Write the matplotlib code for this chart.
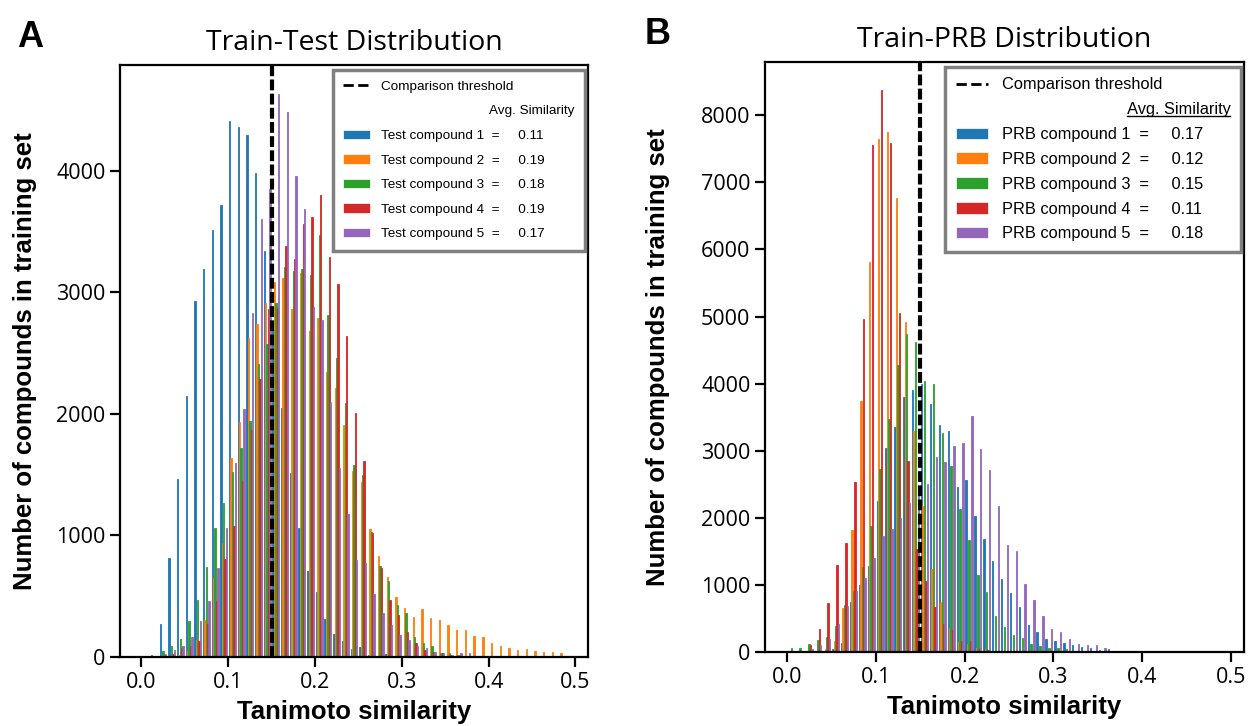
import numpy as np
import matplotlib
matplotlib.use("Agg")
import matplotlib.pyplot as plt
from matplotlib.patches import Patch
from matplotlib.lines import Line2D

# similarity bins, 0.00 .. 0.49 in steps of 0.01
edges = np.round(np.arange(0, 0.50, 0.01), 2)
n_bins = len(edges) - 1
centers = (edges[:-1] + edges[1:]) / 2

def pad(c):
    return c + [0] * (n_bins - len(c))

# ---- A: Train-Test, counts per bin ----
test1 = pad([0, 20, 268, 817, 1463, 2143, 2926, 3194, 3514, 3719, 4407, 4359, 4298, 3978, 3338,
             2700, 2051, 1517, 1064, 710, 538, 313, 189, 132, 68, 82, 14, 10, 22, 5])
test2 = pad([0, 0, 0, 5, 15, 46, 140, 305, 653, 938, 1640, 1930, 2621, 2743, 2914, 3085, 3118,
             2865, 3155, 2682, 2789, 2347, 2210, 1905, 1530, 1440, 1055, 830, 662, 494, 405, 330,
             394, 323, 305, 264, 222, 222, 173, 162, 113, 93, 77, 58, 63, 49, 44, 38, 30])
test3 = pad([0, 5, 46, 91, 152, 299, 466, 741, 1061, 1270, 1524, 1716, 1945, 2414, 2576, 2914,
             3210, 3176, 3191, 3139, 3475, 2810, 2463, 2088, 1583, 1500, 1032, 750, 622, 424, 358,
             168, 113, 93, 36, 30, 14, 5])
test4 = pad([0, 5, 15, 25, 70, 91, 128, 268, 457, 808, 1076, 1448, 1865, 2286, 2859, 2870, 3380,
             3277, 3560, 3620, 3804, 3292, 3069, 2643, 2007, 1615, 1020, 732, 470, 347, 205, 115,
             61, 44, 30, 14, 8])
test5 = pad([0, 0, 21, 61, 91, 168, 299, 463, 732, 1058, 1600, 2042, 2829, 3606, 3850, 4634, 4487,
             3956, 3688, 2880, 2774, 2097, 1554, 1173, 799, 770, 518, 359, 263, 181, 140, 91, 71,
             44, 30, 20, 36, 30, 5])
test_avg = ["0.11", "0.19", "0.18", "0.19", "0.17"]

# ---- B: Train-PRB, counts per bin ----
prb1 = pad([0, 0, 0, 0, 5, 39, 139, 748, 997, 1285, 2244, 3047, 3352, 3795, 3906, 4000, 3695,
            3379, 3296, 2465, 2559, 2033, 1690, 1357, 1091, 886, 676, 399, 305, 194, 160, 139, 104,
            80, 55, 30, 40, 15, 8])
prb2 = pad([0, 0, 0, 0, 44, 166, 650, 1817, 3740, 5817, 7645, 7756, 6770, 4920, 3296, 2172, 1230,
            748, 360, 155, 122, 66, 39, 15, 8])
prb3 = pad([55, 55, 122, 177, 222, 388, 704, 914, 1263, 1884, 2731, 3479, 4277, 4737, 4626, 4044,
            3989, 3258, 2770, 2133, 1673, 1152, 897, 538, 377, 249, 211, 122, 83, 60, 60, 40, 15, 8])
prb4 = pad([0, 0, 111, 343, 731, 1296, 1618, 2532, 4958, 7551, 8376, 7590, 5058, 2853, 1540, 1064,
            676, 416, 332, 166, 166, 66, 28, 10])
prb5 = pad([0, 0, 44, 100, 194, 415, 693, 914, 1108, 1396, 1728, 1839, 1994, 2227, 2350, 2504,
            2909, 2836, 3075, 3113, 3518, 3019, 2715, 2172, 1590, 1507, 1014, 776, 537, 340, 303,
            189, 119, 104, 99, 60, 20, 10])
prb_avg = ["0.17", "0.12", "0.15", "0.11", "0.18"]

threshold = 0.15
colors = ["#1f77b4", "#ff7f0e", "#2ca02c", "#d62728", "#9467bd"]

fig = plt.figure(figsize=(12.5, 7.26), dpi=100)
axA = fig.add_axes([120 / 1250, 69 / 726, 468 / 1250, 592 / 726])
axB = fig.add_axes([765 / 1250, 74 / 726, 479 / 1250, 590 / 726])

tickfont = "Open Sans"
lab = dict(family="Liberation Sans", fontweight="bold", fontsize=18.5)


def panel(ax, data, avg, name, title, letter, letter_x, ylab_x, ymax, yticks,
          legsize, lspace, header_spaces, bpad):
    _, _, bars = ax.hist([centers] * 5, bins=edges, weights=data, color=colors)
    for bc, c in zip(bars, colors):
        for p in bc:
            p.set_edgecolor(c)
            p.set_linewidth(0.6)
    ax.axvline(threshold, color="black", lw=3, ls=(0, (2.6, 0.8)), zorder=5)
    ax.set_xlim(-0.0245, 0.5145)
    ax.set_ylim(0, ymax)
    ax.set_xticks([0.0, 0.1, 0.2, 0.3, 0.4, 0.5])
    ax.set_yticks(yticks)
    for s in ax.spines.values():
        s.set_linewidth(1.6)
    ax.tick_params(direction="out", length=7, width=1.6, labelsize=15.5)
    for t in ax.get_xticklabels() + ax.get_yticklabels():
        t.set_family(tickfont)
    ax.set_title(title, family=tickfont, fontsize=20.5, pad=11)
    ax.set_xlabel("Tanimoto similarity", labelpad=5, **lab)
    ax.set_ylabel("Number of compounds in training set", **lab)
    ax.yaxis.set_label_coords(ylab_x, 0.5)
    ax.text(letter_x, 1.047, letter, transform=ax.transAxes, family="Liberation Sans",
            fontweight="bold", fontsize=26, ha="center", va="center")

    handles = [Line2D([], [], color="black", ls="--", lw=2),
               Line2D([], [], color="none")]
    labels = ["Comparison threshold", " " * header_spaces + "Avg. Similarity"]
    for i in range(5):
        handles.append(Patch(facecolor=colors[i], edgecolor="white", lw=0.5))
        labels.append(f"{name} compound {i + 1}  =     {avg[i]}")
    leg = ax.legend(handles, labels, loc="upper right", bbox_to_anchor=(0.994, 0.992),
                    borderaxespad=0, fancybox=False, framealpha=1, edgecolor="#808080",
                    prop=dict(family="Liberation Sans", size=legsize), labelspacing=lspace,
                    handletextpad=0.8, borderpad=bpad)
    leg.get_frame().set_linewidth(2.5)
    return leg


legA = panel(axA, [test1, test2, test3, test4, test5], test_avg, "Test", "Train-Test Distribution",
             "A", -0.192, -0.177, 4870, [0, 1000, 2000, 3000, 4000], 9.7, 0.9, 29, 0.8)
legB = panel(axB, [prb1, prb2, prb3, prb4, prb5], prb_avg, "PRB", "Train-PRB Distribution",
             "B", -0.225, -0.198, 8795, list(range(0, 8001, 1000)), 11.8, 0.6, 28, 0.65)

# underline the header of panel B
fig.canvas.draw()
r = fig.canvas.get_renderer()
hdr = legB.get_texts()[1]
bb = hdr.get_window_extent(r)
probe = fig.text(0, 0, "Avg. Similarity", fontproperties=hdr.get_fontproperties())
w = probe.get_window_extent(r).width
probe.remove()
inv = fig.transFigure.inverted()
(x0, y0), (x1, _) = inv.transform([(bb.x1 - w, bb.y0 + 1), (bb.x1, bb.y0 + 1)])
fig.add_artist(Line2D([x0, x1], [y0, y0], color="black", lw=1, transform=fig.transFigure))

fig.savefig("out.png", dpi=100)
